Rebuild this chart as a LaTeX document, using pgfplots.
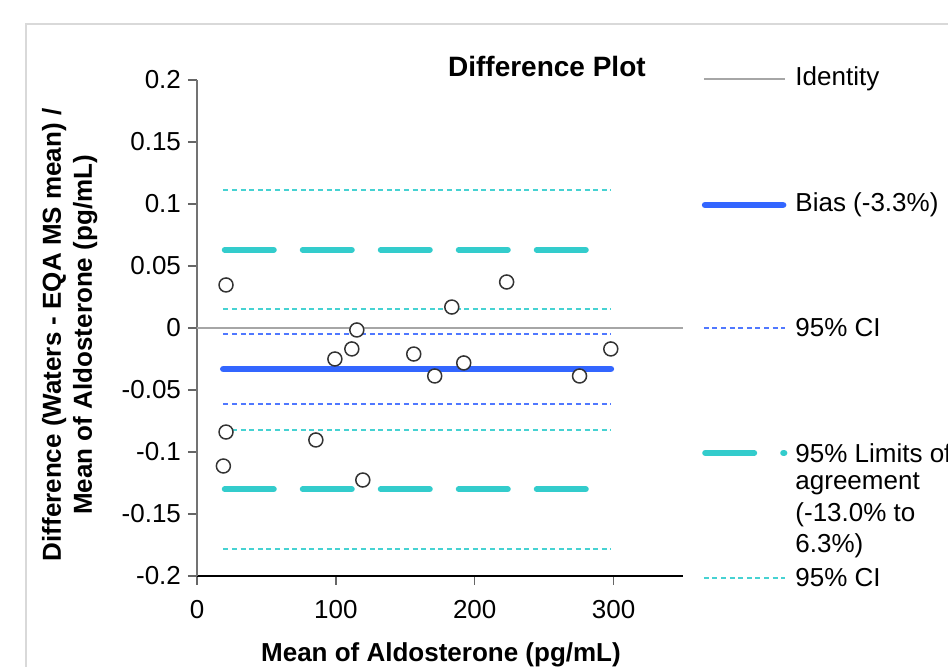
\documentclass[border=0pt]{standalone}
\usepackage{pgfplots}
\pgfplotsset{compat=1.18}
\usepackage{fontspec}
\setmainfont{Liberation Sans}
\definecolor{biasblue}{RGB}{51,102,255}
\definecolor{ciblue}{RGB}{80,120,255}
\definecolor{loacyan}{RGB}{51,204,204}
\definecolor{cicyan}{RGB}{70,210,210}
\newcommand{\lbl}{\fontsize{13}{15.5}\selectfont}

\begin{document}
\begin{tikzpicture}
\path[use as bounding box] (-98.5pt,-45.5pt) rectangle (375.5pt,288pt);
% chart frame
\draw[black!15, line width=0.75pt] (-85.5pt,-60pt) -- (-85.5pt,276pt) -- (400pt,276pt);
\begin{axis}[
  at={(0,0)}, anchor=south west,
  scale only axis, width=243pt, height=248pt,
  xmin=0, xmax=350, ymin=-0.2, ymax=0.2,
  axis lines*=left,
  clip=false,
  xtick={0,100,200,300}, xticklabels={0,100,200,300},
  ytick={-0.2,-0.15,-0.1,-0.05,0,0.05,0.1,0.15,0.2},
  yticklabels={-0.2,-0.15,-0.1,-0.05,0,0.05,0.1,0.15,0.2},
  tick align=outside, major tick length=4.5pt,
  tick style={black!60, line width=0.75pt},
  x axis line style={black, line width=0.75pt},
  y axis line style={black!55, line width=0.9pt},
  ticklabel style={font=\lbl},
  xticklabel style={yshift=-4pt},
  title={Difference Plot},
  title style={font=\bfseries\fontsize{14}{16}\selectfont, at={(axis description cs:0.72,1.004)}, anchor=center},
  xlabel={Mean of Aldosterone (pg/mL)},
  xlabel style={font=\bfseries\lbl, at={(axis description cs:0.502,-0.158)}, anchor=center},
  ylabel={Difference (Waters - EQA MS mean) /\\Mean of Aldosterone (pg/mL)},
  ylabel style={font=\bfseries\lbl, align=center, at={(axis description cs:-0.262,0.486)}, anchor=center},
]
% Identity
\addplot[gray!70, line width=1pt] coordinates {(0,0) (350,0)};
% Bias and its CI
\addplot[ciblue, line width=1pt, dash pattern=on 2.5pt off 1.8pt] coordinates {(19,-0.005) (298,-0.005)};
\addplot[ciblue, line width=1pt, dash pattern=on 2.5pt off 1.8pt] coordinates {(19,-0.061) (298,-0.061)};
\addplot[biasblue, line width=3.4pt, line cap=round] coordinates {(19,-0.033) (298,-0.033)};
% Limits of agreement and their CI
\addplot[cicyan, line width=1pt, dash pattern=on 2.5pt off 1.8pt] coordinates {(19,0.111) (298,0.111)};
\addplot[cicyan, line width=1pt, dash pattern=on 2.5pt off 1.8pt] coordinates {(19,0.015) (298,0.015)};
\addplot[cicyan, line width=1pt, dash pattern=on 2.5pt off 1.8pt] coordinates {(19,-0.082) (298,-0.082)};
\addplot[cicyan, line width=1pt, dash pattern=on 2.5pt off 1.8pt] coordinates {(19,-0.178) (298,-0.178)};
\addplot[loacyan, line width=3pt, line cap=round, dash pattern=on 24.5pt off 14.5pt] coordinates {(20,0.063) (298,0.063)};
\addplot[loacyan, line width=3pt, line cap=round, dash pattern=on 24.5pt off 14.5pt] coordinates {(20,-0.130) (298,-0.130)};
% Samples
\addplot[only marks, mark=*, mark size=3.5pt,
  mark options={draw=black!80, fill=white, line width=0.75pt}] coordinates {
  (20.9,0.0347) (20.9,-0.0839) (19,-0.1113) (85.6,-0.0903) (99.3,-0.0250)
  (111.5,-0.0169) (115.1,-0.0016) (119.4,-0.1226) (156.1,-0.0210) (171.2,-0.0387)
  (192.1,-0.0282) (183.5,0.0169) (223.0,0.0371) (275.5,-0.0387) (298,-0.0169)};

% Legend
\draw[gray!70, line width=1pt] (axis cs:365,0.2008) -- (axis cs:423.5,0.2008);
\draw[biasblue, line width=3.4pt, line cap=round] (axis cs:366,0.0992) -- (axis cs:422,0.0992);
\draw[ciblue, line width=1pt, dash pattern=on 2.5pt off 1.8pt] (axis cs:365,0) -- (axis cs:423.5,0);
\draw[loacyan, line width=3pt, line cap=round, dash pattern=on 24.5pt off 14.5pt] (axis cs:366,-0.1008) -- (axis cs:423,-0.1008);
\draw[cicyan, line width=1pt, dash pattern=on 2.5pt off 1.8pt] (axis cs:365,-0.2016) -- (axis cs:423.5,-0.2016);
\node[anchor=west, font=\lbl, inner sep=0pt] at (axis cs:430.7,0.2008) {Identity};
\node[anchor=west, font=\lbl, inner sep=0pt] at (axis cs:430.7,0.0992) {Bias (-3.3\%)};
\node[anchor=west, font=\lbl, inner sep=0pt] at (axis cs:430.7,0) {95\% CI};
\node[anchor=west, font=\lbl, inner sep=0pt] at (axis cs:430.7,-0.1008) {95\% Limits of};
\node[anchor=west, font=\lbl, inner sep=0pt] at (axis cs:430.7,-0.1258) {agreement};
\node[anchor=west, font=\lbl, inner sep=0pt] at (axis cs:430.7,-0.1508) {(-13.0\% to};
\node[anchor=west, font=\lbl, inner sep=0pt] at (axis cs:430.7,-0.1758) {6.3\%)};
\node[anchor=west, font=\lbl, inner sep=0pt] at (axis cs:430.7,-0.2016) {95\% CI};
\end{axis}
\end{tikzpicture}
\end{document}
